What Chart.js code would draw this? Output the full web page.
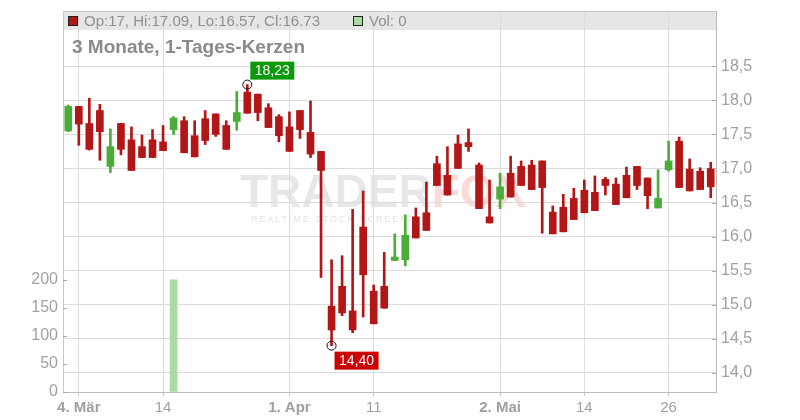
<!DOCTYPE html>
<html><head><meta charset="utf-8">
<script src="https://cdn.jsdelivr.net/npm/chart.js@4.4.1/dist/chart.umd.min.js"></script>
<style>html,body{margin:0;padding:0;background:#fff}#wrap{width:800px;height:420px}</style>
</head><body><div id="wrap"><canvas id="c" width="800" height="420"></canvas></div>
<script>
// ---- data ----
const openP  = [17.55,17.91,17.66,17.85,17.03,17.66,17.42,17.32,17.42,17.39,17.57,17.70,17.48,17.73,17.80,17.63,17.69,18.12,18.09,17.89,17.76,17.61,17.85,17.53,17.25,14.98,15.27,14.91,16.14,15.20,15.27,15.65,15.66,16.29,16.35,17.07,16.90,17.36,17.38,17.05,16.29,16.55,16.93,17.03,17.05,17.11,16.36,16.43,16.56,16.68,16.65,16.84,16.77,16.90,17.03,16.86,16.42,16.98,17.40,16.99,16.96,17.00];
const highP  = [17.93,17.91,18.03,17.94,17.58,17.66,17.61,17.49,17.57,17.63,17.76,17.76,17.70,17.85,17.80,17.70,18.13,18.23,18.09,17.95,17.79,17.83,17.85,17.99,17.25,15.66,15.72,16.40,16.67,15.29,15.77,16.04,16.32,16.42,16.80,17.18,17.32,17.49,17.58,17.08,16.83,16.93,17.18,17.11,17.12,17.11,16.45,16.62,16.71,16.83,16.89,16.87,16.86,17.02,17.03,16.86,16.98,17.40,17.46,17.14,17.01,17.09];
const lowP   = [17.54,17.34,17.27,17.12,16.94,17.20,16.97,17.16,17.16,17.26,17.50,17.23,17.17,17.35,17.47,17.28,17.56,17.81,17.70,17.60,17.39,17.25,17.44,17.16,15.40,14.40,14.84,14.59,14.82,14.72,14.95,15.65,15.57,15.98,16.09,16.75,16.61,17.00,17.25,16.41,16.20,16.41,16.58,16.75,16.69,16.05,16.04,16.07,16.25,16.35,16.38,16.61,16.47,16.57,16.69,16.41,16.42,16.96,16.72,16.67,16.69,16.57];
const closeP = [17.91,17.65,17.28,17.54,17.32,17.28,16.97,17.16,17.16,17.26,17.74,17.23,17.17,17.41,17.50,17.28,17.82,17.81,17.82,17.60,17.48,17.25,17.57,17.21,16.97,14.63,14.88,14.63,15.44,14.72,14.95,15.70,16.02,15.98,16.09,16.75,16.61,17.00,17.32,16.41,16.20,16.73,16.58,16.75,16.69,16.72,16.04,16.07,16.25,16.35,16.38,16.75,16.47,16.57,16.75,16.60,16.56,17.11,16.72,16.67,16.69,16.73];
const volume = [0,0,0,0,0,0,0,0,0,0,200,0,0,0,0,0,0,0,0,0,0,0,0,0,0,0,0,0,0,0,0,0,0,0,0,0,0,0,0,0,0,0,0,0,0,0,0,0,0,0,0,0,0,0,0,0,0,0,0,0,0,0];
const tickIndex = [1, 9, 21, 29, 41, 49, 57];
const tickText  = ['4. Mär', '14', '1. Apr', '11', '2. Mai', '14', '26'];
const priceTicks  = [14.0, 14.5, 15.0, 15.5, 16.0, 16.5, 17.0, 17.5, 18.0, 18.5];
const volumeTicks = [0, 50, 100, 150, 200];
const titleText = '3 Monate, 1-Tages-Kerzen';

// ---- derived ----
const labels = openP.map(() => '');
tickIndex.forEach((i, k) => { labels[i] = tickText[k]; });
const RED = '#b31616', GREEN = '#4aad37', VOLC = '#a9dca2';
const candleColor = i => closeP[i] >= openP[i] ? GREEN : RED;
const wicks  = lowP.map((l, i) => [l, highP[i]]);
const bodies = openP.map((o, i) => [o, closeP[i]]);
const F = "'Liberation Sans', Arial, sans-serif";
const fmt = (v, d) => v.toFixed(d).replace('.', ',');
const last = openP.length - 1;
const trim = v => String(+v.toFixed(2));
const legendText = 'Op:' + trim(openP[last]) + ', Hi:' + trim(highP[last]) + ', Lo:' + trim(lowP[last]) + ', Cl:' + trim(closeP[last]);
const volText = 'Vol: ' + volume[last];

const decor = {
  id: 'decor',
  beforeDraw(chart) {
    const { ctx, chartArea: a } = chart;
    ctx.save();
    // legend band
    ctx.fillStyle = '#e6e6e6';
    ctx.fillRect(a.left, a.top, a.right - a.left, 19);
    // watermark
    ctx.font = 'bold 46px ' + F;
    ctx.textBaseline = 'alphabetic';
    ctx.fillStyle = 'rgba(0,0,0,0.095)';
    ctx.fillText('TRADER', 240, 207);
    const w = ctx.measureText('TRADER').width;
    ctx.fillStyle = 'rgba(240,70,70,0.2)';
    ctx.fillText('FOX', 240 + w, 207);
    ctx.font = '9px ' + F;
    ctx.letterSpacing = '1.9px';
    ctx.fillStyle = 'rgba(0,0,0,0.12)';
    ctx.fillText('REALTIME STOCK SCREENING', 251, 222);
    ctx.letterSpacing = '0px';
    ctx.restore();
  },
  afterDraw(chart) {
    const { ctx, chartArea: a } = chart;
    const ys = chart.scales.y, yv = chart.scales.yVol;
    ctx.save();
    // top border
    ctx.strokeStyle = '#c8c8c8';
    ctx.lineWidth = 1;
    ctx.beginPath();
    ctx.moveTo(a.left, a.top + 0.5); ctx.lineTo(a.right, a.top + 0.5);
    ctx.stroke();
    // inner tick marks
    ctx.strokeStyle = '#aaa';
    ctx.beginPath();
    ys.ticks.forEach(t => {
      const y = Math.round(ys.getPixelForValue(t.value)) + 0.5;
      ctx.moveTo(a.right - 4, y); ctx.lineTo(a.right, y);
    });
    yv.ticks.forEach(t => {
      const y = Math.round(yv.getPixelForValue(t.value)) + 0.5;
      ctx.moveTo(a.left, y); ctx.lineTo(a.left + 4, y);
    });
    ctx.stroke();
    // legend
    ctx.textBaseline = 'middle';
    ctx.lineWidth = 1;
    ctx.fillStyle = RED; ctx.fillRect(68.5, a.top + 5.5, 9, 9);
    ctx.strokeStyle = '#222'; ctx.strokeRect(68.5, a.top + 5.5, 9, 9);
    ctx.fillStyle = VOLC; ctx.fillRect(353.5, a.top + 5.5, 9, 9);
    ctx.strokeRect(353.5, a.top + 5.5, 9, 9);
    ctx.font = '15px ' + F;
    ctx.fillStyle = '#8f8f8f';
    ctx.fillText(legendText, 84, a.top + 10.5);
    ctx.fillText(volText, 369, a.top + 10.5);
    // title
    ctx.font = 'bold 19px ' + F;
    ctx.fillStyle = '#8a8a8a';
    ctx.fillText(titleText, 72, a.top + 36.5);
    // high / low markers
    const xs = chart.scales.x;
    const hi = Math.max(...highP), hiI = highP.indexOf(hi);
    const lo = Math.min(...lowP), loI = lowP.indexOf(lo);
    const hx = xs.getPixelForValue(hiI), hy = ys.getPixelForValue(hi);
    const lx = xs.getPixelForValue(loI), ly = ys.getPixelForValue(lo);
    ctx.strokeStyle = '#111'; ctx.lineWidth = 1;
    ctx.beginPath(); ctx.arc(hx, hy, 4.5, 0, Math.PI * 2); ctx.stroke();
    ctx.beginPath(); ctx.arc(lx, ly, 4.5, 0, Math.PI * 2); ctx.stroke();
    ctx.font = '14px ' + F;
    ctx.fillStyle = '#0b9a0b';
    ctx.fillRect(hx + 3, hy - 23, 44, 18);
    ctx.fillStyle = '#cc0000';
    ctx.fillRect(lx + 3, ly + 6, 44, 18);
    ctx.fillStyle = '#fff';
    ctx.textAlign = 'center';
    ctx.fillText(fmt(hi, 2), hx + 25, hy - 13.5);
    ctx.fillText(fmt(lo, 2), lx + 25, ly + 15.5);
    ctx.restore();
  }
};

const noPad = s => { s.paddingTop = 0; s.paddingBottom = 0; s.paddingLeft = 0; s.paddingRight = 0; };

new Chart(document.getElementById('c'), {
  type: 'bar',
  data: {
    labels,
    datasets: [
      { label: 'Vol', data: volume, yAxisID: 'yVol', backgroundColor: c => (volume[c.dataIndex] > 0 ? VOLC : 'rgba(0,0,0,0)'), borderWidth: 0, barThickness: 7, grouped: false, order: 3 },
      { label: 'wick', data: wicks, yAxisID: 'y', backgroundColor: c => candleColor(c.dataIndex), borderWidth: 0, barThickness: 2, grouped: false, order: 2 },
      { label: 'body', data: bodies, yAxisID: 'y', backgroundColor: c => candleColor(c.dataIndex), borderWidth: 0, barThickness: 7, grouped: false, order: 1 }
    ]
  },
  options: {
    responsive: false,
    animation: false,
    layout: { padding: { top: 11, left: 0, right: 0, bottom: 0 } },
    plugins: { legend: { display: false }, tooltip: { enabled: false }, title: { display: false } },
    scales: {
      x: {
        type: 'category',
        offset: true,
        grid: {
          offset: false,
          color: c => (c.tick && c.tick.label) ? '#dcdcdc' : 'rgba(0,0,0,0)',
          tickColor: c => (c.tick && c.tick.label) ? '#c8c8c8' : 'rgba(0,0,0,0)',
          tickLength: 4
        },
        border: { color: '#bbb' },
        ticks: {
          autoSkip: false, maxRotation: 0, minRotation: 0, padding: 3, color: '#a0a0a0',
          font: c => ({ family: F, size: 15, weight: (c.tick && /\./.test(c.tick.label)) ? 'bold' : 'normal' })
        },
        afterFit: s => { noPad(s); s.height = 28; }
      },
      y: {
        position: 'right',
        min: 13.72, max: 19.31,
        afterBuildTicks: s => { s.ticks = priceTicks.map(v => ({ value: v })); },
        grid: { color: '#dcdcdc', drawTicks: false },
        border: { color: '#bbb' },
        ticks: { color: '#a0a0a0', padding: 5, font: { family: F, size: 16 }, callback: v => fmt(v, 1) },
        afterFit: s => { noPad(s); s.width = 84; }
      },
      yVol: {
        position: 'left',
        min: 0, max: 680,
        afterBuildTicks: s => { s.ticks = volumeTicks.map(v => ({ value: v })); },
        grid: { display: true, drawOnChartArea: false, drawTicks: false },
        border: { color: '#c8c8c8' },
        ticks: { color: '#a0a0a0', padding: 5, font: { family: F, size: 16 } },
        afterFit: s => { noPad(s); s.width = 63; }
      }
    }
  },
  plugins: [decor]
});
</script>
</body></html>
